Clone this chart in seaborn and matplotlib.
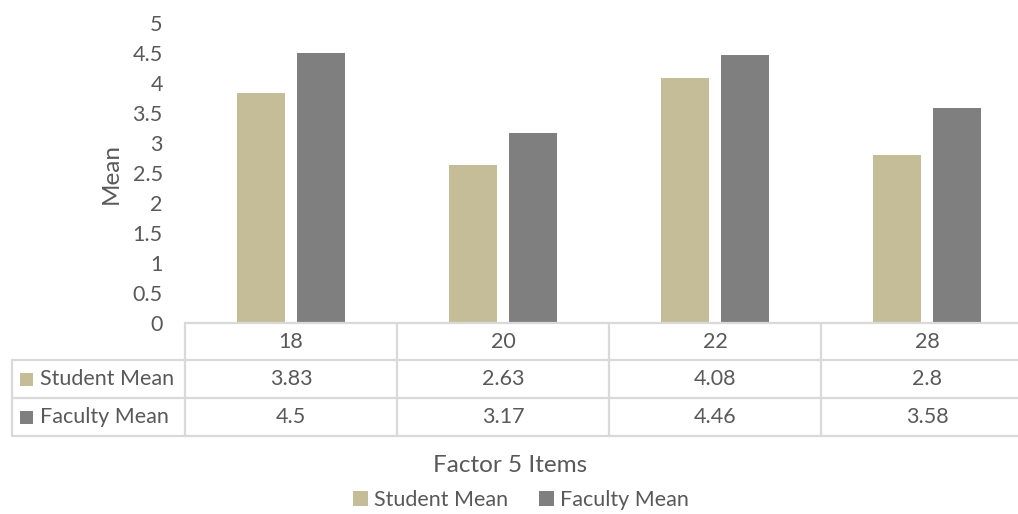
import matplotlib
matplotlib.use("Agg")
import matplotlib.pyplot as plt
import matplotlib.transforms as mtransforms
from matplotlib.patches import Rectangle
from matplotlib.lines import Line2D
import seaborn as sns
import pandas as pd

# Data
items = ["18", "20", "22", "28"]
student_mean = [3.83, 2.63, 4.08, 2.8]
faculty_mean = [4.5, 3.17, 4.46, 3.58]
series_names = ["Student Mean", "Faculty Mean"]
y_ticks = [0, 0.5, 1, 1.5, 2, 2.5, 3, 3.5, 4, 4.5, 5]
y_tick_labels = ["0", "0.5", "1", "1.5", "2", "2.5", "3", "3.5", "4", "4.5", "5"]

colors = {"Student Mean": "#C4BD97", "Faculty Mean": "#7F7F7F"}
text_color = "#595959"
grid_color = "#D9D9D9"
fs = 15.5        # tick labels, table and legend
fs_title = 17.5  # axis titles

sns.set_theme(style="white")
plt.rcParams["font.family"] = ["Lato", "DejaVu Sans"]

df = pd.DataFrame({
    "Item": items * 2,
    "Series": [series_names[0]] * len(items) + [series_names[1]] * len(items),
    "Mean": student_mean + faculty_mean,
})

W, H = 1018, 514
fig = plt.figure(figsize=(W / 100, H / 100), dpi=100)


def fx(px):
    return px / W


def fy(py):
    return 1 - py / H


# Plot area: the axes extends slightly past the right edge of the figure
ax_left, ax_right, ax_top, ax_bottom = 185, 1033, 23, 323
ax = fig.add_axes([fx(ax_left), fy(ax_bottom), fx(ax_right - ax_left),
                   (ax_bottom - ax_top) / H])

sns.barplot(data=df, x="Item", y="Mean", hue="Series", order=items,
            hue_order=series_names, palette=colors, saturation=1,
            width=0.566, gap=0.2, linewidth=0, ax=ax, legend=True)

ax.set_xlim(-0.5, len(items) - 0.5)
ax.set_ylim(0, 5)
ax.set_yticks(y_ticks)
ax.set_yticklabels(y_tick_labels, color=text_color, fontsize=fs)
ax.tick_params(axis="y", length=0, pad=16)
ax.set_xticks([])
ax.set_xlabel("")
ax.set_ylabel("")
for s in ax.spines.values():
    s.set_visible(False)

handles, labels = ax.get_legend_handles_labels()
ax.get_legend().remove()

fig.text(fx(111), fy(174), "Mean", rotation=90, ha="center", va="center",
         fontsize=fs_title, color=text_color)

# Data table below the plot
blend = mtransforms.blended_transform_factory(ax.transData, fig.transFigure)
row_top, row1, row2, row3 = 323, 360, 398, 436
lw = 1.6
fig.add_artist(Line2D([fx(ax_left), 1.02], [fy(row_top)] * 2,
                      color=grid_color, lw=lw, transform=fig.transFigure))
for yy in (row1, row2, row3):
    fig.add_artist(Line2D([fx(12), 1.02], [fy(yy)] * 2, color=grid_color,
                          lw=lw, transform=fig.transFigure))
fig.add_artist(Line2D([fx(12)] * 2, [fy(row1), fy(row3)], color=grid_color,
                      lw=lw, transform=fig.transFigure))
for b in range(len(items) + 1):
    fig.add_artist(Line2D([b - 0.5] * 2, [fy(row_top), fy(row3)],
                          color=grid_color, lw=lw, transform=blend,
                          clip_on=False))

for i, item in enumerate(items):
    fig.text(i, fy((row_top + row1) / 2), item, transform=blend, ha="center",
             va="center", fontsize=fs, color=text_color)
    fig.text(i, fy((row1 + row2) / 2), str(student_mean[i]), transform=blend,
             ha="center", va="center", fontsize=fs, color=text_color)
    fig.text(i, fy((row2 + row3) / 2), str(faculty_mean[i]), transform=blend,
             ha="center", va="center", fontsize=fs, color=text_color)

for name, (ya, yb) in zip(series_names, [(row1, row2), (row2, row3)]):
    yc = (ya + yb) / 2
    fig.add_artist(Rectangle((fx(20), fy(yc + 6.5)), fx(13), 13 / H,
                             facecolor=colors[name], edgecolor="none",
                             transform=fig.transFigure))
    fig.text(fx(40), fy(yc), name, ha="left", va="center", fontsize=fs,
             color=text_color)

fig.text(fx(510), fy(466), "Factor 5 Items", ha="center", va="center",
         fontsize=fs_title, color=text_color)

fig.legend(handles, labels, loc="center", bbox_to_anchor=(fx(521), fy(500)),
           ncol=2, frameon=False, fontsize=fs, handlelength=0.7,
           handleheight=0.7, handletextpad=0.3, columnspacing=1.4,
           labelcolor=text_color, borderaxespad=0, borderpad=0)

fig.savefig("out.png", dpi=100)
